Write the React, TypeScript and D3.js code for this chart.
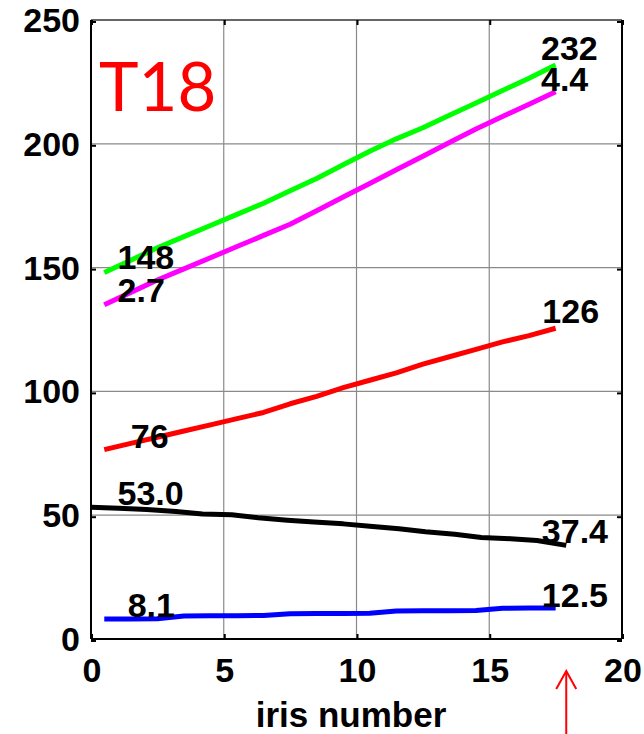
import React from "react";
import * as d3 from "d3";

// ---- data ----
const irisX = [0.5, 1.5, 2.5, 3.5, 4.5, 5.5, 6.5, 7.5, 8.5, 9.5, 10.5, 11.5, 12.5, 13.5, 14.5, 15.5, 16.5, 17.5];
const greenVals = [148, 153, 158, 162.5, 167, 171.5, 176, 181, 186, 191.5, 197, 202, 206.5, 211.5, 216.5, 221.5, 226.5, 231.8];
const magentaVals = [135, 140, 145, 149.5, 154, 158.5, 163, 167.5, 173, 178.5, 184, 189.5, 195, 200.5, 206, 211, 216, 221];
const redVals = [76.5, 79, 81.5, 84, 86.5, 89, 91.5, 95, 98, 101.5, 104.5, 107.5, 111, 114, 117, 120, 122.5, 125.5];
const blueVals = [8.1, 8.1, 8.2, 9.3, 9.4, 9.4, 9.5, 10.2, 10.3, 10.3, 10.4, 11.3, 11.4, 11.4, 11.5, 12.4, 12.5, 12.5];
const blackX = [0, 1.05, 2.1, 3.2, 4.2, 5.3, 6.3, 7.4, 8.4, 9.5, 10.5, 11.6, 12.6, 13.7, 14.7, 15.8, 16.8, 17.9];
const blackVals = [53.2, 52.8, 52.3, 51.5, 50.5, 50.2, 49, 48, 47.3, 46.5, 45.5, 44.5, 43.3, 42.3, 41, 40.5, 39.8, 37.8];

const xTicks = [0, 5, 10, 15, 20];
const yTicks = [0, 50, 100, 150, 200, 250];

const annText = ["148", "2.7", "76", "53.0", "8.1", "232", "4.4", "126", "37.4", "12.5"];
const annX = [1.0, 1.0, 1.5, 1.0, 1.38, 16.95, 16.95, 17.0, 16.98, 16.98];
const annY = [149.3, 136.2, 77.0, 54.1, 8.8, 233.8, 221.4, 127.5, 38.7, 13.0];

const arrowX = 17.9;
const titleText = "T18";
const xLabel = "iris number";

const series = [
  { x: irisX, y: greenVals, color: "#00ff00" },
  { x: irisX, y: magentaVals, color: "#ff00ff" },
  { x: irisX, y: redVals, color: "#ff0000" },
  { x: blackX, y: blackVals, color: "#000000" },
  { x: irisX, y: blueVals, color: "#0000ff" },
];

export default function App() {
  const W = 644, H = 734;
  const left = 91, right = 622, top = 20, bottom = 639;
  const x = d3.scaleLinear().domain([0, 20]).range([left, right]);
  const y = d3.scaleLinear().domain([0, 250]).range([bottom, top]);
  const line = d3
    .line<[number, number]>()
    .x((d) => x(d[0]))
    .y((d) => y(d[1]));
  const font = "'Liberation Sans', Arial, sans-serif";
  const tickLen = 5;

  return (
    <svg
      width={W}
      height={H}
      style={{ position: "absolute", left: 0, top: 0, background: "#fff" }}
    >
      <rect x={0} y={0} width={W} height={H} fill="#fff" />
      {/* grid */}
      {xTicks.filter((t) => t > 0 && t < 20).map((t) => (
        <line key={"gx" + t} x1={x(t)} x2={x(t)} y1={y(250)} y2={y(0)} stroke="#8a8a8a" strokeWidth={1.2} />
      ))}
      {yTicks.filter((t) => t > 0 && t < 250).map((t) => (
        <line key={"gy" + t} x1={x(0)} x2={x(20)} y1={y(t)} y2={y(t)} stroke="#8a8a8a" strokeWidth={1.2} />
      ))}
      {/* frame */}
      <line x1={x(0)} x2={x(20)} y1={y(250)} y2={y(250)} stroke="#333" strokeWidth={1.5} />
      <line x1={x(0)} x2={x(20)} y1={y(0)} y2={y(0)} stroke="#000" strokeWidth={2} />
      <line x1={x(0)} x2={x(0)} y1={y(250)} y2={y(0)} stroke="#000" strokeWidth={2} />
      <line x1={x(20)} x2={x(20)} y1={y(250)} y2={y(0)} stroke="#000" strokeWidth={2} />
      {/* ticks */}
      {yTicks.map((t) => (
        <g key={"ty" + t}>
          <line x1={x(0)} x2={x(0) + tickLen} y1={y(t) + 2} y2={y(t) + 2} stroke="#000" strokeWidth={2} />
          <line x1={x(20)} x2={x(20) - tickLen} y1={y(t) + 2} y2={y(t) + 2} stroke="#000" strokeWidth={2} />
        </g>
      ))}
      {xTicks.map((t) => (
        <g key={"tx" + t}>
          <line x1={x(t) + 1} x2={x(t) + 1} y1={y(250)} y2={y(250) + tickLen} stroke="#000" strokeWidth={2} />
          <line x1={x(t) + 1} x2={x(t) + 1} y1={y(0)} y2={y(0) - tickLen} stroke="#000" strokeWidth={2} />
        </g>
      ))}
      {/* series */}
      {series.map((s, i) => (
        <path
          key={"s" + i}
          d={line(s.x.map((v, j) => [v, s.y[j]] as [number, number])) || ""}
          fill="none"
          stroke={s.color}
          strokeWidth={5}
          strokeLinejoin="round"
        />
      ))}
      {/* annotations */}
      {annText.map((t, i) => (
        <text key={"a" + i} x={x(annX[i])} y={y(annY[i])} fontFamily={font} fontWeight="bold" fontSize={34} fill="#000">
          {t}
        </text>
      ))}
      {/* tick labels */}
      {yTicks.map((t) => (
        <text key={"yl" + t} x={80} y={y(t) + 12} textAnchor="end" fontFamily={font} fontWeight="bold" fontSize={34}>
          {t}
        </text>
      ))}
      {xTicks.map((t) => (
        <text key={"xl" + t} x={x(t) + 1} y={682} textAnchor="middle" fontFamily={font} fontWeight="bold" fontSize={34}>
          {t}
        </text>
      ))}
      <text x={351} y={727} textAnchor="middle" fontFamily={font} fontWeight="bold" fontSize={35}>
        {xLabel}
      </text>
      {/* title */}
      <text x={x(0.3)} y={111} fontFamily="Lato, 'Open Sans', sans-serif" fontSize={67} fill="#ff0000">
        {titleText}
      </text>
      {/* arrow */}
      <line x1={x(arrowX)} x2={x(arrowX)} y1={671} y2={H} stroke="#ff0000" strokeWidth={2} />
      <polyline
        points={`${x(arrowX) - 10},${689} ${x(arrowX)},${671} ${x(arrowX) + 10},${689}`}
        fill="none"
        stroke="#ff0000"
        strokeWidth={2}
      />
    </svg>
  );
}
